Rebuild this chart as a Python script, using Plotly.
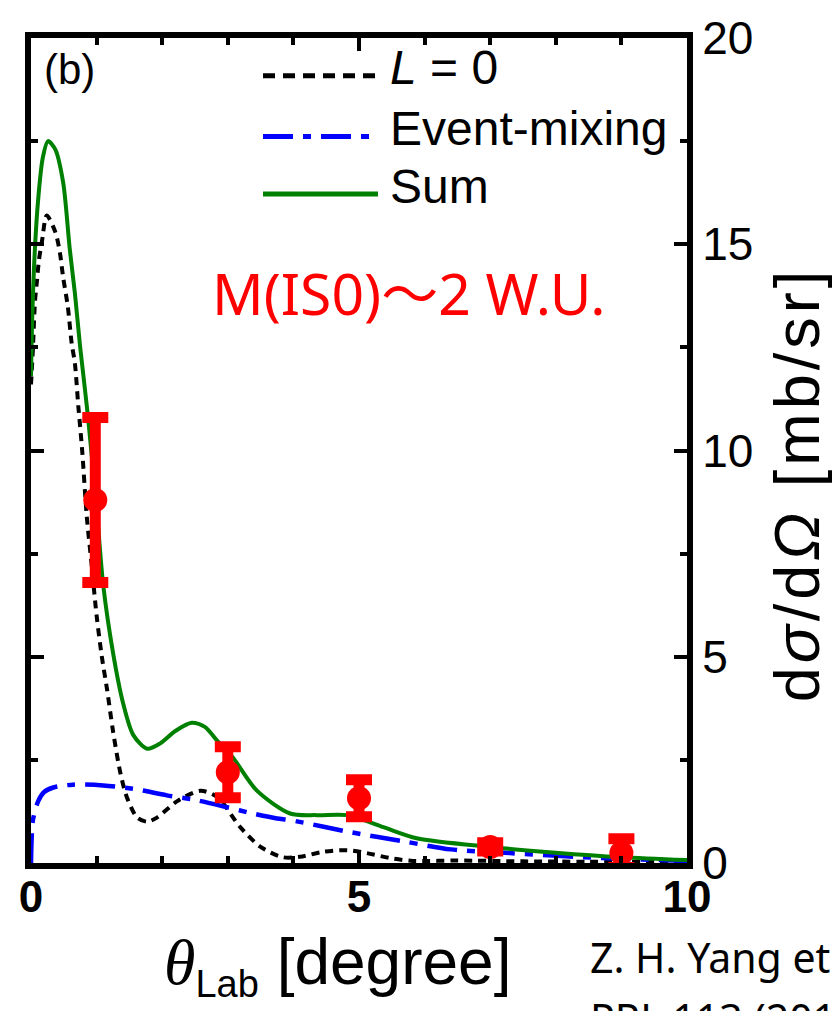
import plotly.graph_objects as go

# ---------------- data ----------------
theta_sum = [0, 0.02, 0.06, 0.11, 0.18, 0.26, 0.37, 0.49, 0.59, 0.67, 0.75, 0.87, 1.0, 1.10, 1.25,
             1.40, 1.56, 1.77, 1.97, 2.2, 2.45, 2.65, 2.84, 3.08, 3.44, 3.95, 4.36, 4.82, 5.37,
             5.88, 7.0, 8.0, 9.0, 10.0]
sigma_sum = [11.8, 13.3, 14.9, 16.1, 17.1, 17.5, 17.3, 16.5, 14.9, 13.8, 12.5, 10.8, 8.6, 6.75, 5.1,
             3.9, 3.1, 2.77, 2.9, 3.2, 3.4, 3.3, 2.96, 2.55, 1.76, 1.2, 1.16, 1.16, 0.87,
             0.6, 0.39, 0.25, 0.14, 0.07]

theta_l0 = [0, 0.03, 0.06, 0.09, 0.12, 0.17, 0.24, 0.37, 0.44, 0.49, 0.56, 0.62, 0.67, 0.72, 0.78,
            0.85, 0.92, 1.0, 1.08, 1.16, 1.25, 1.36, 1.46, 1.62, 1.77, 1.92, 2.23, 2.58, 2.84,
            3.19, 3.5, 3.84, 4.1, 4.45, 4.82, 5.12, 5.47, 5.82, 6.5, 7.5, 8.5, 10.0]
sigma_l0 = [11.6, 12.5, 13.6, 14.1, 14.6, 15.1, 15.7, 15.3, 14.8, 14.2, 13.5, 12.6, 12.1, 11.1, 10.0,
            8.4, 7.3, 6.0, 5.0, 4.2, 3.2, 2.2, 1.6, 1.1, 1.0, 1.1, 1.5, 1.75, 1.6,
            0.87, 0.39, 0.14, 0.15, 0.27, 0.31, 0.24, 0.12, 0.05, 0.06, 0.04, 0.03, 0.02]

theta_em = [0, 0.01, 0.03, 0.11, 0.2, 0.34, 0.64, 1.1, 1.55, 2.07, 2.47, 2.99, 3.38, 3.75, 3.95,
            4.86, 5.7, 6.4, 7.3, 8.7, 10.0]
sigma_em = [0.0, 0.6, 1.05, 1.5, 1.72, 1.83, 1.9, 1.88, 1.8, 1.64, 1.54, 1.35, 1.2, 1.08, 1.04,
            0.75, 0.52, 0.33, 0.24, 0.12, 0.05]

exp_theta = [0.98, 3, 5, 7, 9]
exp_sigma = [8.8, 2.2, 1.57, 0.39, 0.24]
exp_err = [2.0, 0.62, 0.45, 0.1, 0.35]

x_tick_vals = [0, 5, 10]
x_tick_text = ["0", "5", "10"]
y_tick_vals = [0, 5, 10, 15, 20]
y_tick_text = ["0", "5", "10", "15", "20"]

legend_names = ["<i>L</i> = 0", "Event-mixing", "Sum"]

# ---------------- geometry helpers ----------------
W, H = 838, 1011
L_PX, R_PX, T_PX, B_PX = 31, 687, 33, 863


def px(x):
    return (x - L_PX) / (R_PX - L_PX)


def py(y):
    return (B_PX - y) / (B_PX - T_PX)


SANS = "Liberation Sans, Arial, sans-serif"
CAL = "Noto Sans, sans-serif"

fig = go.Figure()

fig.add_trace(go.Scatter(x=theta_l0, y=sigma_l0, mode="lines", name=legend_names[0],
                         line=dict(color="black", width=4, dash="8px,6px", shape="spline", smoothing=0.8),
                         showlegend=False))
fig.add_trace(go.Scatter(x=theta_em, y=sigma_em, mode="lines", name=legend_names[1],
                         line=dict(color="#0000FF", width=4.5, dash="30px,10px,8px,10px", shape="spline", smoothing=0.8),
                         showlegend=False))
fig.add_trace(go.Scatter(x=theta_sum, y=sigma_sum, mode="lines", name=legend_names[2],
                         line=dict(color="#008000", width=4, shape="spline", smoothing=0.8),
                         showlegend=False))
fig.add_trace(go.Scatter(x=exp_theta, y=exp_sigma, mode="markers", name="data",
                         marker=dict(color="#FF0000", size=24, line=dict(width=0)),
                         error_y=dict(type="data", array=exp_err, visible=True, color="#FF0000",
                                      thickness=11, width=13),
                         cliponaxis=False, showlegend=False))

# ---------------- custom legend ----------------
legend_rows = [(71, "black", "12px,8px", 5), (132, "#0000FF", "30px,10px,8px,10px", 5), (190, "#008000", "solid", 5)]
for (ypix, col, dash, w), name in zip(legend_rows, legend_names):
    fig.add_shape(type="line", xref="paper", yref="paper", x0=px(263), x1=px(378), y0=py(ypix), y1=py(ypix),
                  line=dict(color=col, width=w, dash=dash))
    fig.add_annotation(xref="paper", yref="paper", x=px(388), y=py(ypix - 8), xanchor="left", yanchor="middle",
                       text=name, showarrow=False, font=dict(family=SANS, size=48, color="black"))

annotations = [
    dict(x=px(42), y=py(65), xanchor="left", yanchor="middle", text="(b)",
         font=dict(family=SANS, size=42, color="black")),
    dict(x=px(210), y=py(287), xanchor="left", yanchor="middle",
         text="M(IS0)<span style='font-family:Noto Sans CJK JP'>～</span>2 W.U.",
         font=dict(family=CAL, size=57, color="#FF0000")),
    dict(x=px(797), y=py(482), xanchor="center", yanchor="middle", textangle=-90,
         text="<span style='letter-spacing:4px'>d<i>σ</i>/d<i>Ω</i> [mb/sr]</span>",
         font=dict(family=SANS, size=63, color="black")),
    dict(x=px(162), y=py(966), xanchor="left", yanchor="middle",
         text="<i><span style='font-family:Liberation Serif'>θ</span></i>"
              "<sub><span style='font-size:38px'>Lab</span></sub> [degree]",
         font=dict(family=SANS, size=64, color="black")),
    dict(x=px(588), y=py(958), xanchor="left", yanchor="middle", align="left",
         text="Z. H. Yang et al.,",
         font=dict(family=CAL, size=41, color="black")),
    dict(x=px(588), y=py(1019), xanchor="left", yanchor="middle", align="left",
         text="PRL 113 (2014)",
         font=dict(family=CAL, size=41, color="black")),
]
for a in annotations:
    fig.add_annotation(xref="paper", yref="paper", showarrow=False, **a)

axis_common = dict(showline=True, linewidth=6, linecolor="black", mirror="allticks",
                   ticks="inside", ticklen=13, tickwidth=4, tickcolor="black",
                   showgrid=False, zeroline=False)

fig.update_xaxes(range=[0, 10], tickvals=x_tick_vals,
                 ticktext=["<b>" + t + "</b>" for t in x_tick_text],
                 tickfont=dict(family=SANS, size=44, color="black"),
                 ticklabelstandoff=-10,
                 minor=dict(dtick=1, tick0=0, ticks="inside", ticklen=7, tickwidth=4, tickcolor="black",
                            showgrid=False),
                 **axis_common)
fig.update_yaxes(range=[0, 20], side="right", tickvals=y_tick_vals, ticktext=y_tick_text,
                 tickfont=dict(family=SANS, size=46, color="black"),
                 minor=dict(dtick=2.5, tick0=0, ticks="inside", ticklen=7, tickwidth=4, tickcolor="black",
                            showgrid=False),
                 **axis_common)

fig.update_layout(width=W, height=H, margin=dict(l=L_PX, r=W - R_PX, t=T_PX, b=H - B_PX, pad=0),
                  paper_bgcolor="white", plot_bgcolor="white", showlegend=False)

fig.write_html("out.html", config={"displayModeBar": False},
               post_script="document.body.style.margin='0px';document.body.style.overflow='hidden';")
